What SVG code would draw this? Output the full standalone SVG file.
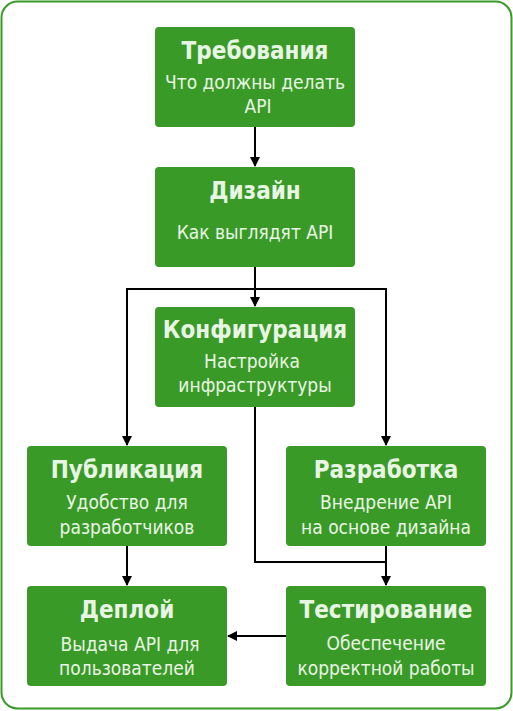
<svg xmlns="http://www.w3.org/2000/svg" width="513" height="711" viewBox="0 0 513 711">
<style>
.box{fill:#3a9a28}
.t{font-family:"DejaVu Sans Condensed","DejaVu Sans",sans-serif;font-stretch:condensed;font-weight:bold;font-size:24px;fill:#e9f5e4;text-anchor:middle}
.s{font-family:"DejaVu Sans Condensed","DejaVu Sans",sans-serif;font-stretch:condensed;font-size:19px;fill:#e9f5e4;text-anchor:middle}
.c{fill:none;stroke:#000;stroke-width:2}
</style>
<defs>
<marker id="ah" markerWidth="10" markerHeight="10" refX="9" refY="5" orient="auto" markerUnits="userSpaceOnUse">
<path d="M0,0 L10,5 L0,10 Z" fill="#000"/>
</marker>
</defs>
<rect x="1.5" y="1.5" width="510" height="707" rx="16" fill="#fff" stroke="#3a9a28" stroke-width="2"/>
<g id="connectors">
<path class="c" d="M255,127 V166" marker-end="url(#ah)"/>
<path class="c" d="M255,267 V306" marker-end="url(#ah)"/>
<path class="c" d="M255,289 H127 V445" marker-end="url(#ah)"/>
<path class="c" d="M255,289 H386 V445" marker-end="url(#ah)"/>
<path class="c" d="M255,407 V562 H386 V585" marker-end="url(#ah)"/>
<path class="c" d="M386,546 V562"/>
<path class="c" d="M127,546 V585" marker-end="url(#ah)"/>
<path class="c" d="M286,636 H228" marker-end="url(#ah)"/>
</g>
<g id="n1"><rect class="box" x="155" y="27" width="200" height="100" rx="4"/>
<text class="t" x="255" y="59">Требования</text>
<text class="s" x="255" y="89">Что должны делать</text>
<text class="s" x="258" y="113">API</text></g>
<g id="n2"><rect class="box" x="155" y="167" width="200" height="100" rx="4"/>
<text class="t" x="255" y="199">Дизайн</text>
<text class="s" x="255" y="239">Как выглядят API</text></g>
<g id="n3"><rect class="box" x="155" y="307" width="200" height="100" rx="4"/>
<text class="t" x="255" y="338">Конфигурация</text>
<text class="s" x="252" y="368">Настройка</text>
<text class="s" x="255" y="392">инфраструктуры</text></g>
<g id="n4"><rect class="box" x="27" y="446" width="200" height="100" rx="4"/>
<text class="t" x="127" y="478">Публикация</text>
<text class="s" x="127" y="509">Удобство для</text>
<text class="s" x="127" y="534">разработчиков</text></g>
<g id="n5"><rect class="box" x="286" y="446" width="200" height="100" rx="4"/>
<text class="t" x="386" y="478">Разработка</text>
<text class="s" x="386" y="509">Внедрение API</text>
<text class="s" x="386" y="534">на основе дизайна</text></g>
<g id="n6"><rect class="box" x="27" y="586" width="200" height="100" rx="4"/>
<text class="t" x="127" y="618">Деплой</text>
<text class="s" x="130" y="651">Выдача API для</text>
<text class="s" x="127" y="675">пользователей</text></g>
<g id="n7"><rect class="box" x="286" y="586" width="200" height="100" rx="4"/>
<text class="t" x="386" y="618">Тестирование</text>
<text class="s" x="386" y="650">Обеспечение</text>
<text class="s" x="386" y="675">корректной работы</text></g>
</svg>
